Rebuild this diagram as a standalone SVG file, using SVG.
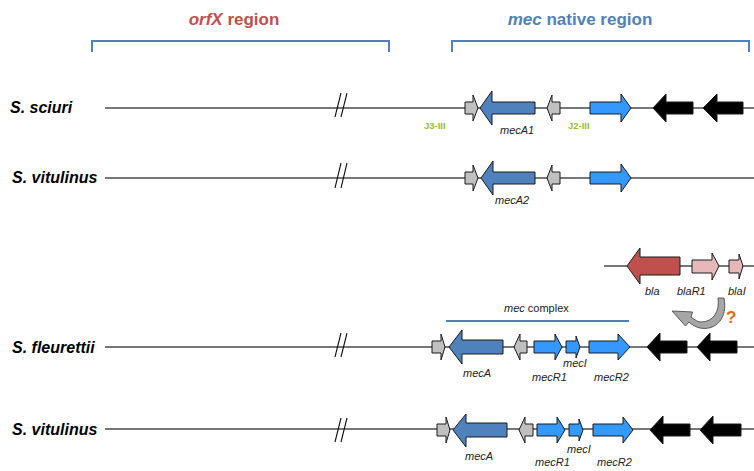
<svg xmlns="http://www.w3.org/2000/svg" width="754" height="471" viewBox="0 0 754 471">
<style>
.bg{fill:#fff}
.dna{stroke:#4a4a4a;stroke-width:1.4;fill:none}
.brk{stroke:#111;stroke-width:1.1;fill:none}
.brkt{stroke:#4f81bd;stroke-width:2;fill:none}
.g{stroke:#1a1a1a;stroke-width:1;stroke-linejoin:miter}
.grey{fill:#c0c0c0}
.dblue{fill:#4f81bd}
.lblue{fill:#3399ff}
.blk{fill:#000}
.red{fill:#c0504d}
.pink{fill:#e6b9b8}
.sp{font-family:"Liberation Sans",Arial,sans-serif;font-weight:bold;font-style:italic;font-size:16px;fill:#000}
.gl{font-family:"Liberation Sans",Arial,sans-serif;font-style:italic;font-size:11px;fill:#222}
.jl{font-family:"Liberation Sans",Arial,sans-serif;font-weight:bold;font-size:9.5px;fill:#9bbb2f}
.hd{font-family:"Liberation Sans",Arial,sans-serif;font-weight:bold;font-size:17px}
</style>
<rect class="bg" width="754" height="471"/>

<g id="headers">
<text class="hd" x="234" y="25" text-anchor="middle" fill="#c0504d"><tspan font-style="italic">orfX</tspan> region</text>
<text class="hd" x="580" y="25" text-anchor="middle" fill="#4f81bd"><tspan font-style="italic">mec</tspan> native region</text>
<path class="brkt" d="M92,52 V41 H389 V52"/>
<path class="brkt" d="M452,52 V41 H749 V52"/>
</g>

<g id="connectors">
<line class="dna" x1="105" y1="108" x2="754" y2="108"/>
<line class="dna" x1="105" y1="178" x2="754" y2="178"/>
<line class="dna" x1="604" y1="266" x2="754" y2="266"/>
<line class="dna" x1="105" y1="347" x2="754" y2="347"/>
<line class="dna" x1="105" y1="429" x2="754" y2="429"/>
<path class="brk" d="M335,117 L341,93 M341,117 L347,93"/>
<path class="brk" d="M335,188 L341,163 M341,188 L347,163"/>
<path class="brk" d="M335,357 L341,333 M341,357 L347,333"/>
<path class="brk" d="M335,442 L341,418 M341,442 L347,418"/>
</g>

<g id="row-sciuri">
<text class="sp" x="10" y="113">S. sciuri</text>
<polygon class="g grey" points="465,102 473,102 473,95 478,108 473,121 473,114 465,114"/>
<polygon class="g dblue" points="480,108 492,91 492,102 535,102 535,114 492,114 492,125"/>
<polygon class="g grey" points="547,108 552,95 552,102 560,102 560,114 552,114 552,121"/>
<polygon class="g lblue" points="590,102 621,102 621,94 631,108 621,122 621,114 590,114"/>
<polygon class="g blk" points="653,108 666,94 666,102 693,102 693,114 666,114 666,122"/>
<polygon class="g blk" points="703,108 717,94 717,102 743,102 743,114 717,114 717,122"/>
<text class="jl" x="424" y="129">J3-III</text>
<text class="jl" x="568" y="129">J2-III</text>
<text class="gl" x="500" y="134">mecA1</text>
</g>

<g id="row-vitulinus-1">
<text class="sp" x="12" y="183">S. vitulinus</text>
<polygon class="g grey" points="465,172 473,172 473,165 478,178 473,191 473,184 465,184"/>
<polygon class="g dblue" points="481,178 493,161 493,172 535,172 535,184 493,184 493,195"/>
<polygon class="g grey" points="547,178 552,165 552,172 560,172 560,184 552,184 552,191"/>
<polygon class="g lblue" points="590,172 621,172 621,164 631,178 621,192 621,184 590,184"/>
<text class="gl" x="495" y="204">mecA2</text>
</g>

<g id="bla-operon">
<polygon class="g red" points="627,266 640,248 640,257 680,257 680,275 640,275 640,284"/>
<polygon class="g pink" points="692,260 712,260 712,253 719,266 712,280 712,273 692,273"/>
<polygon class="g pink" points="729,260 739,260 739,254 743,266 739,279 739,273 729,273"/>
<text class="gl" x="645" y="295">bla</text>
<text class="gl" x="677" y="295">blaR1</text>
<text class="gl" x="728" y="295">blaI</text>
</g>

<g id="transfer-arrow">
<path d="M718,298 L724,298 C728,318 716,331 700,328 C696,327 692,325 689,322 L685.5,326 L672,311 L692.5,312 L691,317 C695,320 698,322 701,322 C713,322 720,312 718,298 Z" fill="#a6a6a6" stroke="#595959" stroke-width="1"/>
<text x="726" y="323" font-family="Liberation Sans,Arial,sans-serif" font-weight="bold" font-size="17" fill="#e36c09">?</text>
</g>

<g id="mec-complex">
<text x="504" y="312" font-family="Liberation Sans,Arial,sans-serif" font-size="11" fill="#222"><tspan font-style="italic">mec</tspan> complex</text>
<line x1="446" y1="321" x2="629" y2="321" stroke="#4f81bd" stroke-width="2"/>
</g>

<g id="row-fleurettii">
<text class="sp" x="12" y="353">S. fleurettii</text>
<polygon class="g grey" points="432,341 441,341 441,334 445,347 441,360 441,353 432,353"/>
<polygon class="g dblue" points="449,347 462,330 462,340 503,340 503,354 462,354 462,364"/>
<polygon class="g grey" points="514,347 520,334 520,341 527,341 527,353 520,353 520,360"/>
<polygon class="g lblue" points="534,341 555,341 555,334 562,347 555,360 555,353 534,353"/>
<polygon class="g lblue" points="566,341 576,341 576,336 580,347 576,358 576,353 566,353"/>
<polygon class="g lblue" points="589,341 618,341 618,334 630,347 618,360 618,353 589,353"/>
<polygon class="g blk" points="647,347 660,333 660,341 687,341 687,353 660,353 660,361"/>
<polygon class="g blk" points="697,347 710,333 710,341 737,341 737,353 710,353 710,361"/>
<text class="gl" x="463" y="377">mecA</text>
<text class="gl" x="563" y="367">mecI</text>
<text class="gl" x="532" y="381">mecR1</text>
<text class="gl" x="594" y="381">mecR2</text>
</g>

<g id="row-vitulinus-2">
<text class="sp" x="12" y="435">S. vitulinus</text>
<polygon class="g grey" points="437,424 446,424 446,417 450,430 446,443 446,436 437,436"/>
<polygon class="g dblue" points="453,430 466,414 466,423 507,423 507,437 466,437 466,447"/>
<polygon class="g grey" points="519,430 525,417 525,424 533,424 533,436 525,436 525,443"/>
<polygon class="g lblue" points="537,424 557,424 557,417 565,430 557,443 557,436 537,436"/>
<polygon class="g lblue" points="569,424 579,424 579,419 583,430 579,441 579,436 569,436"/>
<polygon class="g lblue" points="593,424 623,424 623,417 633,430 623,443 623,436 593,436"/>
<polygon class="g blk" points="650,430 663,416 663,424 690,424 690,436 663,436 663,444"/>
<polygon class="g blk" points="700,430 713,416 713,424 741,424 741,436 713,436 713,444"/>
<text class="gl" x="465" y="460">mecA</text>
<text class="gl" x="567" y="453">mecI</text>
<text class="gl" x="535" y="466">mecR1</text>
<text class="gl" x="597" y="466">mecR2</text>
</g>
</svg>
